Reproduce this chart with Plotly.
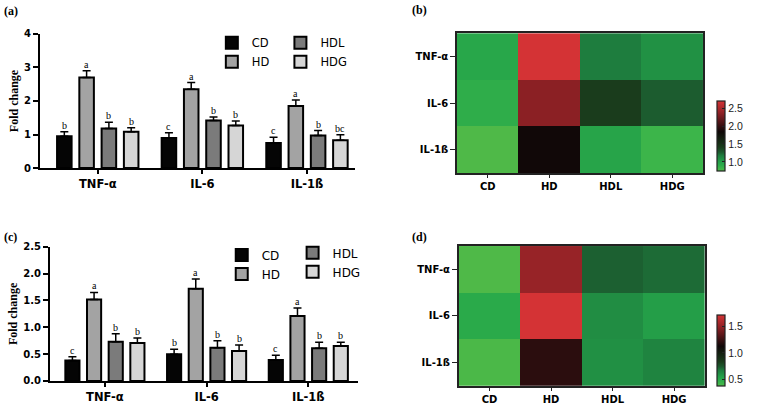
import plotly.graph_objects as go

cytokines = ['TNF-α', 'IL-6', 'IL-1ß']
groups = ['CD', 'HD', 'HDL', 'HDG']

# panel (a) / (b)
a_mean = {'CD': [0.95, 0.90, 0.75],
          'HD': [2.70, 2.35, 1.85],
          'HDL': [1.18, 1.42, 0.97],
          'HDG': [1.08, 1.27, 0.83]}
a_err = {'CD': [0.13, 0.15, 0.17],
         'HD': [0.20, 0.20, 0.18],
         'HDL': [0.19, 0.10, 0.15],
         'HDG': [0.12, 0.13, 0.16]}
a_letters = {'CD': ['b', 'c', 'c'],
             'HD': ['a', 'a', 'a'],
             'HDL': ['b', 'b', 'b'],
             'HDG': ['b', 'b', 'bc']}

# panel (c) / (d)
c_mean = {'CD': [0.38, 0.50, 0.39],
          'HD': [1.52, 1.72, 1.21],
          'HDL': [0.73, 0.62, 0.61],
          'HDG': [0.71, 0.56, 0.65]}
c_err = {'CD': [0.07, 0.09, 0.09],
         'HD': [0.13, 0.18, 0.15],
         'HDL': [0.15, 0.13, 0.11],
         'HDG': [0.09, 0.11, 0.07]}
c_letters = {'CD': ['c', 'b', 'c'],
             'HD': ['a', 'a', 'a'],
             'HDL': ['b', 'b', 'b'],
             'HDG': ['b', 'b', 'b']}

bar_colors = {'CD': '#050505', 'HD': '#a3a3a3', 'HDL': '#7b7b7b', 'HDG': '#d6d6d6'}
heat_scale = [[0.0, '#4fb948'], [0.04, '#3cb54a'], [0.09, '#2aaa4a'],
              [0.13, '#24a049'], [0.22, '#1e7d3e'], [0.27, '#1c5a2e'],
              [0.34, '#1a3d1c'], [0.56, '#0f0808'], [0.82, '#8b2024'],
              [1.0, '#d43335']]

SANS = 'Liberation Sans'
WIDE = 'DejaVu Sans'
SERIF = 'Liberation Serif'

fig = go.Figure()

slot = 0.213  # bargroup slot width in category units
legend_of = {'CD': 0, 'HD': 0, 'HDL': 1, 'HDG': 1}

for panel, (means, errs, letters, xa, ya, legs) in enumerate([
        (a_mean, a_err, a_letters, 'x', 'y', ['legend', 'legend2']),
        (c_mean, c_err, c_letters, 'x3', 'y3', ['legend3', 'legend4'])]):
    for j, g in enumerate(groups):
        fig.add_trace(go.Bar(
            x=cytokines, y=means[g], name=g, xaxis=xa, yaxis=ya,
            legend=legs[legend_of[g]],
            marker=dict(color=bar_colors[g], line=dict(color='black', width=2)),
            error_y=dict(type='data', array=errs[g], arrayminus=[0] * 3,
                         symmetric=False, color='black', thickness=1.5, width=4),
        ))
        for i in range(len(cytokines)):
            fig.add_annotation(
                x=i + (j - 1.5) * slot, y=means[g][i] + errs[g][i],
                xref=xa, yref=ya, text=letters[g][i], showarrow=False,
                yanchor='bottom', yshift=-1,
                font=dict(family=SERIF, size=10, color='black'))

for means, xa, ya, cb_y, cb_len in [(a_mean, 'x2', 'y2', 0.577, 0.173),
                                     (c_mean, 'x4', 'y4', 0.045, 0.176)]:
    z = [[means[g][i] for g in groups] for i in range(len(cytokines))]
    fig.add_trace(go.Heatmap(
        z=z, x=groups, y=cytokines, xaxis=xa, yaxis=ya,
        colorscale=heat_scale, xgap=0, ygap=0,
        colorbar=dict(thickness=8, len=cb_len, lenmode='fraction',
                      x=0.941, xanchor='left', y=cb_y, yanchor='bottom',
                      outlinecolor='#222', outlinewidth=1.2,
                      tick0=0, dtick=0.5, tickformat='.1f',
                      ticks='inside', ticklen=3, tickcolor='#222',
                      tickfont=dict(family=SANS, size=10.5, color='#222'),
                      xpad=0, ypad=0),
    ))

tick_font = dict(family=WIDE, size=10, color='black', weight='bold')
cat_font = dict(family=WIDE, size=11.5, color='black', weight='bold')

bar_x = dict(showline=True, linecolor='black', linewidth=2, ticks='outside',
             ticklen=4, tickwidth=1.5, tickcolor='black', tickfont=cat_font,
             showgrid=False, zeroline=False, automargin=False)
bar_y = dict(showline=True, linecolor='black', linewidth=2, ticks='outside',
             ticklen=5, tickwidth=1.5, tickcolor='black', tickfont=tick_font,
             showgrid=False, zeroline=False, automargin=False,
             title=dict(text='Fold change', standoff=3,
                        font=dict(family=SERIF, size=12, color='black', weight='bold')))
heat_x = dict(showline=True, mirror=True, linecolor='#222', linewidth=1.5,
              ticks='outside', ticklen=3, tickcolor='#222', tickfont=tick_font,
              showgrid=False, zeroline=False, automargin=False)
heat_y = dict(showline=True, mirror=True, linecolor='#222', linewidth=1.5,
              ticks='outside', ticklen=5, tickcolor='#222', tickfont=tick_font,
              showgrid=False, zeroline=False, autorange='reversed', automargin=False)

leg = dict(font=dict(family=WIDE, size=12, color='black'), bgcolor='rgba(0,0,0,0)',
           xanchor='left', yanchor='top', itemwidth=30, tracegroupgap=0)
leg_small = dict(leg, font=dict(family=WIDE, size=11.5, color='black'))

fig.update_layout(
    width=762, height=404, margin=dict(l=0, r=0, t=0, b=0, autoexpand=False),
    paper_bgcolor='white', plot_bgcolor='white',
    barmode='group', bargap=0.148, bargroupgap=0.347,
    xaxis=dict(bar_x, domain=[0.0525, 0.466], range=[-0.552, 2.46], anchor='y'),
    yaxis=dict(bar_y, domain=[0.584, 0.916], range=[0, 4], dtick=1, anchor='x'),
    xaxis3=dict(bar_x, domain=[0.0656, 0.47], range=[-0.54, 2.49], anchor='y3'),
    yaxis3=dict(bar_y, domain=[0.057, 0.389], range=[0, 2.5], dtick=0.5,
                tickformat='.1f', anchor='x3'),
    xaxis2=dict(heat_x, domain=[0.5997, 0.9226], anchor='y2'),
    yaxis2=dict(heat_y, domain=[0.572, 0.918], anchor='x2'),
    xaxis4=dict(heat_x, domain=[0.602, 0.925], anchor='y4'),
    yaxis4=dict(heat_y, domain=[0.045, 0.391], anchor='x4'),
    legend=dict(leg_small, x=0.278, y=0.93),
    legend2=dict(leg_small, x=0.368, y=0.93),
    legend3=dict(leg, x=0.291, y=0.405),
    legend4=dict(leg, x=0.384, y=0.41),
    showlegend=True,
)

for txt, x, y in [('(a)', 0.003, 0.995), ('(b)', 0.538, 0.998),
                  ('(c)', 0.003, 0.435), ('(d)', 0.538, 0.435)]:
    fig.add_annotation(text=txt, x=x, y=y, xref='paper', yref='paper',
                       xanchor='left', yanchor='top', showarrow=False,
                       font=dict(family=SERIF, size=12, color='black', weight='bold'))

# drop the browser's default body margin so the 762x404 figure fills the window
fig.write_html('out.html', config={'displayModeBar': False},
               post_script="document.body.style.margin='0';")
